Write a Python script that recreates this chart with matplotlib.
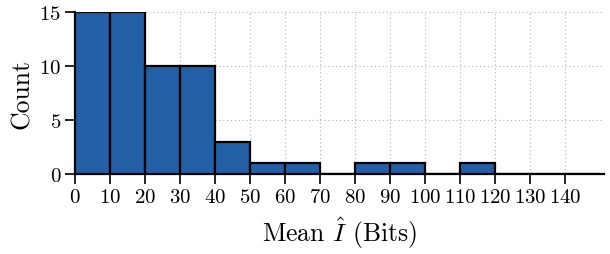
"""Histogram of mean information (bits)."""
import numpy as np
import matplotlib
matplotlib.use("Agg")
import matplotlib.pyplot as plt

plt.rcParams["font.family"] = ["cmr10", "DejaVu Serif"]
plt.rcParams["mathtext.fontset"] = "cm"
plt.rcParams["axes.formatter.use_mathtext"] = True

# bin edges and counts
bin_edges = [0, 10, 20, 30, 40, 50, 60, 70, 80, 90, 100, 110, 120, 130, 140, 150]
counts = [15, 15, 10, 10, 3, 1, 1, 0, 1, 1, 0, 1, 0, 0, 0]
x_ticks = [0, 10, 20, 30, 40, 50, 60, 70, 80, 90, 100, 110, 120, 130, 140]
y_ticks = [0, 5, 10, 15]

fig = plt.figure(figsize=(6.1, 2.55), dpi=100)
ax = fig.add_axes([0.123, 0.314, 0.867, 0.635])

edges = np.array(bin_edges)
ax.bar(edges[:-1], counts, width=np.diff(edges), align="edge",
       color="#235fa6", edgecolor="black", linewidth=1.6, zorder=3)

ax.set_xlim(0, 151)
ax.set_ylim(0, 15)
ax.set_xticks(x_ticks)
ax.set_yticks(y_ticks)
ax.grid(True, linestyle=(0, (1, 2.5)), color="#b0b0b0", linewidth=0.8, zorder=0)
for side in ("top", "right"):
    ax.spines[side].set_visible(False)
for side in ("left", "bottom"):
    ax.spines[side].set_linewidth(1.6)
ax.tick_params(direction="out", length=7, width=1.2, labelsize=15, pad=3)

ax.set_xlabel(r"Mean $\hat{I}$ (Bits)", fontsize=18.5, labelpad=6)
ax.set_ylabel("Count", fontsize=18.5, labelpad=4)

fig.savefig("out.png", dpi=100)
